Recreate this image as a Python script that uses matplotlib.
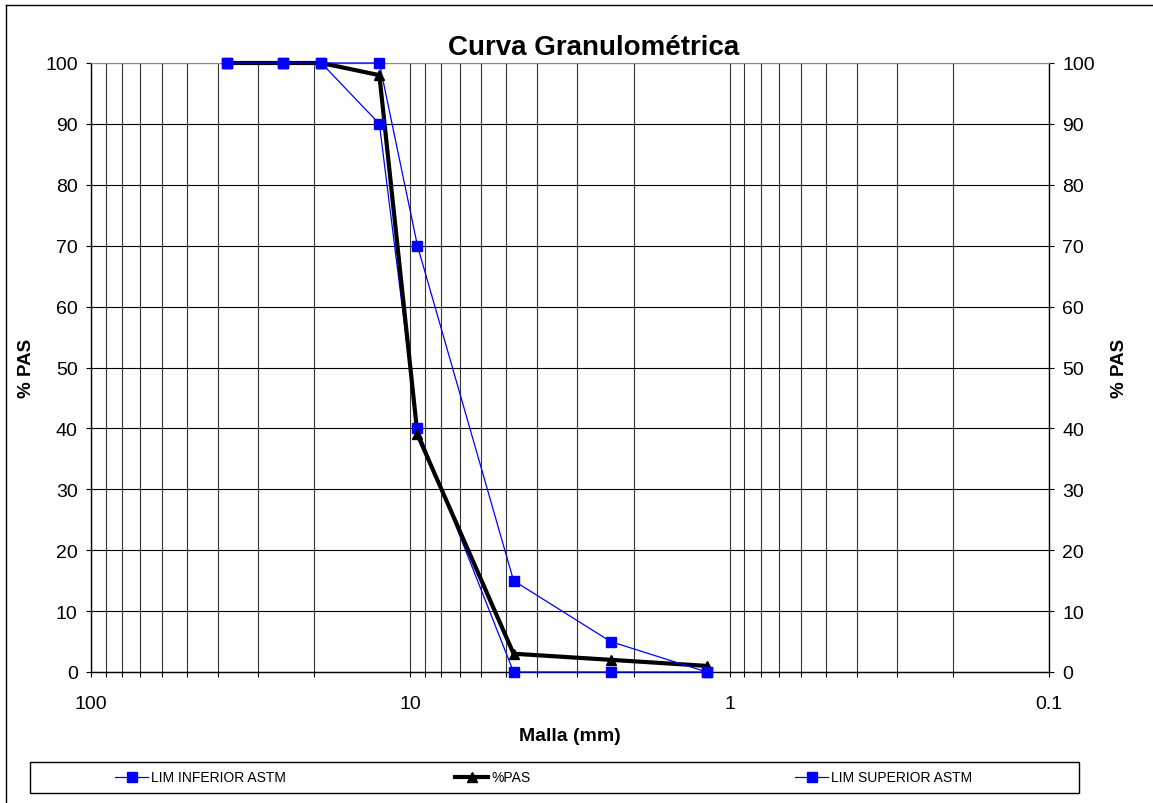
#!/usr/bin/env python3

import matplotlib
matplotlib.use('Agg')
import matplotlib.pyplot as plt
from matplotlib.lines import Line2D
from matplotlib.patches import Rectangle
from matplotlib.ticker import LogLocator, FixedLocator, NullFormatter

# Tamices (mm) y porcentajes que pasan
malla = [37.5, 25, 19, 12.5, 9.5, 4.75, 2.36, 1.18]
lim_inferior = [100, 100, 100, 90, 40, 0, 0, 0]
lim_superior = [100, 100, 100, 100, 70, 15, 5, 0]
pas = [100, 100, 100, 98, 39, 3, 2, 1]

x_ticks = [100, 10, 1, 0.1]
x_labels = ['100', '10', '1', '0.1']
y_ticks = list(range(0, 101, 10))

W, H = 1153, 804
BLUE = '#0000ff'


def main():
    plt.rcParams['font.family'] = ['Liberation Sans', 'DejaVu Sans']
    fig = plt.figure(figsize=(W / 100, H / 100), dpi=100)
    ax = fig.add_axes([91 / W, 1 - 673 / H, (1049 - 91) / W, (673 - 64) / H])

    # como en Excel: primero todas las lineas, luego los marcadores
    series = [
        (lim_inferior, BLUE, 0.9, 's'),
        (pas, 'black', 3, '^'),
        (lim_superior, BLUE, 0.9, 's'),
    ]
    for i, (vals, color, lw, mk) in enumerate(series):
        ax.plot(malla, vals, color=color, lw=lw, zorder=3 + i * 0.1,
                clip_on=False)
        ax.plot(malla, vals, ls='none', marker=mk, ms=7, mec=color,
                mfc=color, zorder=5 + i, clip_on=False)

    ax.set_xscale('log')
    ax.set_xlim(100, 0.1)
    ax.set_ylim(0, 100)
    ax.xaxis.set_major_locator(FixedLocator(x_ticks))
    ax.set_xticklabels(x_labels)
    ax.xaxis.set_minor_locator(LogLocator(base=10, subs=range(2, 10)))
    ax.xaxis.set_minor_formatter(NullFormatter())
    ax.set_yticks(y_ticks)

    ax.grid(which='both', axis='x', color='#333333', lw=0.8)
    ax.grid(which='major', axis='y', color='black', lw=0.8)
    ax.tick_params(axis='x', which='both', direction='out', length=3.6,
                   width=0.8, labelsize=14, pad=13)
    ax.tick_params(axis='y', direction='out', length=3.6, width=0.8,
                   labelsize=14, pad=6, right=True, labelright=True)

    for side in ['left', 'bottom', 'right']:
        ax.spines[side].set_color('black')
        ax.spines[side].set_linewidth(1)
    ax.spines['top'].set_color('#888888')

    fig.text(594 / W, 1 - 55 / H, 'Curva Granulométrica', fontsize=20,
             fontweight='bold', ha='center', va='baseline')
    ax.set_xlabel('Malla (mm)', fontsize=14, fontweight='bold', labelpad=11)
    ax.set_ylabel('% PAS', fontsize=13.5, fontweight='bold', labelpad=7)
    fig.text(1119 / W, 1 - 368 / H, '% PAS', rotation=90, fontsize=13.5,
             fontweight='bold', ha='center', va='center')

    # leyenda: marco y tres entradas
    fig.add_artist(Rectangle((30 / W, 1 - 794 / H), (1079 - 30) / W, 31 / H,
                             transform=fig.transFigure, fill=False,
                             edgecolor='black', lw=1))
    entries = [
        ('LIM INFERIOR ASTM', Line2D([], [], color=BLUE, lw=0.9, marker='s', ms=6.5)),
        ('%PAS', Line2D([], [], color='black', lw=3, marker='^', ms=6.5)),
        ('LIM SUPERIOR ASTM', Line2D([], [], color=BLUE, lw=0.9, marker='s', ms=6.5)),
    ]
    for x0, (label, handle) in zip([115, 455, 795], entries):
        fig.legend([handle], [label], loc='center left',
                   bbox_to_anchor=(x0 / W, 1 - 778.5 / H), frameon=False,
                   fontsize=10, handlelength=2.4, handletextpad=0.2,
                   borderaxespad=0, borderpad=0)

    # borde del grafico
    fig.add_artist(Line2D([6 / W, 6 / W], [0, 1 - 6 / H], color='black', lw=1,
                          transform=fig.transFigure))
    fig.add_artist(Line2D([6 / W, 1], [1 - 6 / H, 1 - 6 / H], color='black',
                          lw=1, transform=fig.transFigure))

    fig.savefig('out.png', dpi=100)


if __name__ == '__main__':
    main()
